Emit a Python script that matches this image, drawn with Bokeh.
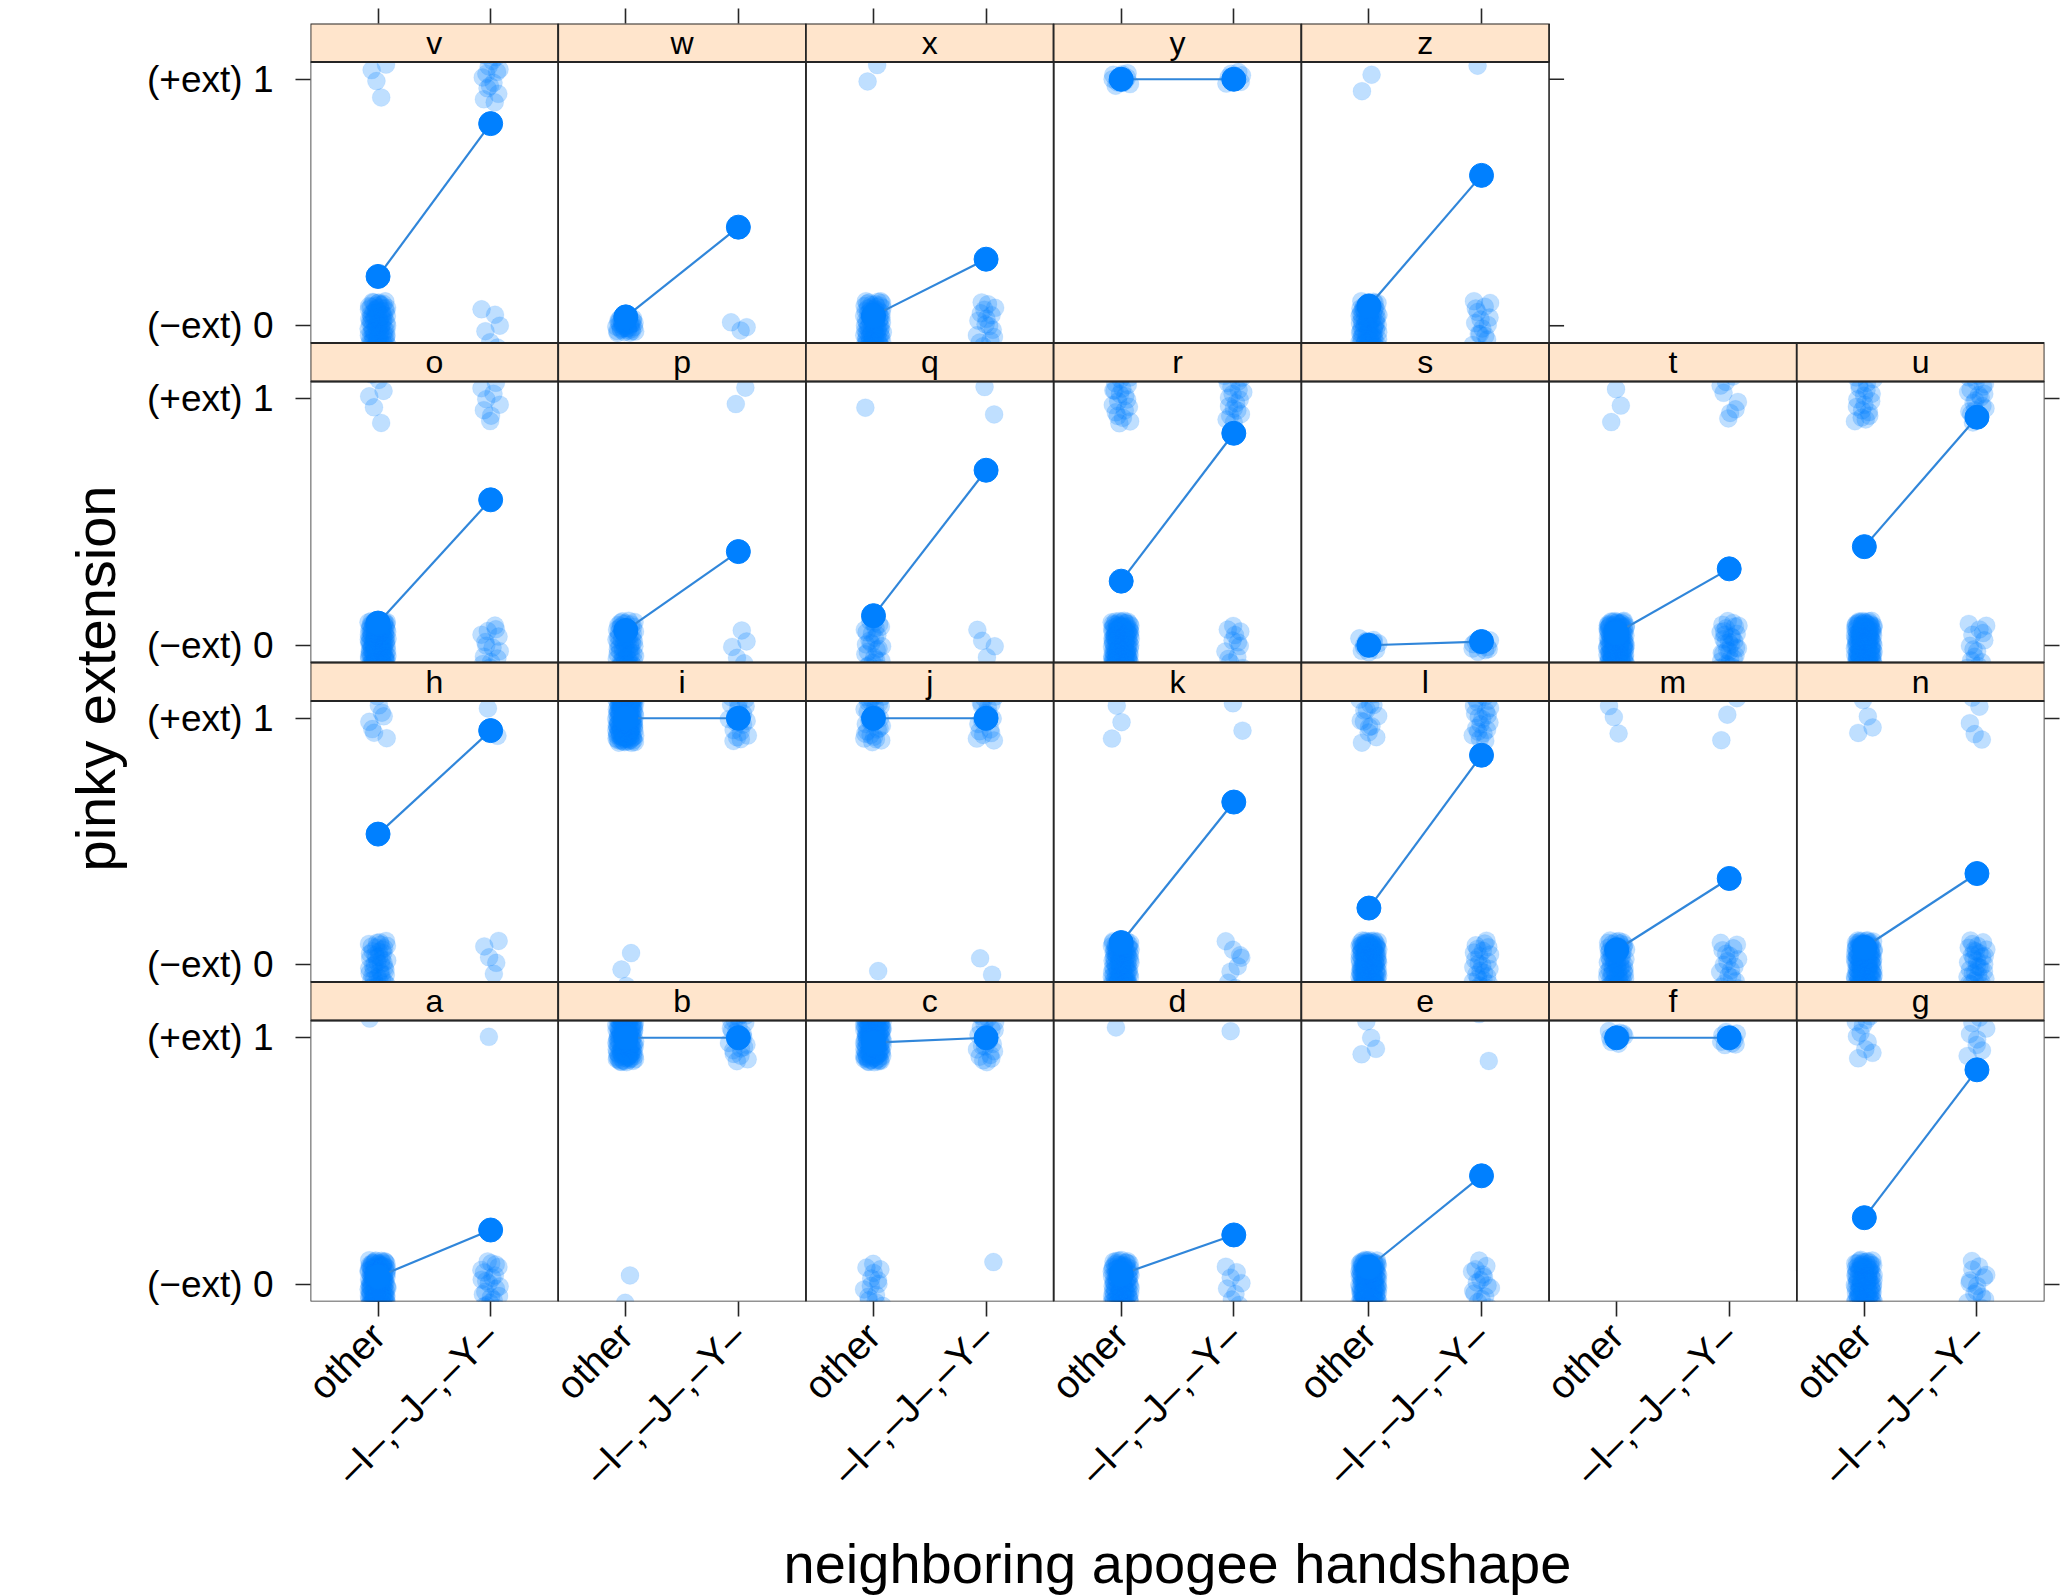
import math
from bokeh.plotting import figure
from bokeh.models import Range1d, FixedTicker, LinearAxis, Title
from bokeh.core.properties import value
from bokeh.embed import file_html
from bokeh.resources import INLINE

# ---------------- data ----------------
panels = list("abcdefghijklmnopqrstuvwxyz")
groups = ["other", "\u2013I\u2013,\u2013J\u2013,\u2013Y\u2013"]
y_tick_labels = ["(\u2212ext) 0", "(+ext) 1"]

# mean pinky extension per panel, for "other" and for "-I-,-J-,-Y-"
mean_other = [0.03, 1.00, 0.98, 0.04, 0.07, 1.00, 0.27,
              0.53, 1.00, 1.00, 0.09, 0.23, 0.06, 0.07,
              0.09, 0.06, 0.12, 0.26, 0.00, 0.05, 0.40,
              0.20, 0.036, 0.04, 1.00, 0.08]
mean_iyj = [0.22, 1.00, 1.00, 0.20, 0.44, 1.00, 0.87,
            0.95, 1.00, 1.00, 0.66, 0.85, 0.35, 0.37,
            0.59, 0.38, 0.71, 0.86, 0.015, 0.31, 0.925,
            0.82, 0.40, 0.27, 1.00, 0.61]

# approximate number of raw observations (tokens) at 0 and at 1, per group
n_other_0 = [150, 2, 14, 110, 150, 0, 110, 45, 3, 1, 110, 150, 70, 130,
             150, 70, 25, 150, 14, 150, 150, 90, 35, 90, 0, 90]
n_other_1 = [1, 130, 140, 1, 4, 10, 10, 8, 160, 30, 3, 14, 3, 4,
             6, 0, 1, 20, 0, 3, 18, 4, 0, 2, 12, 2]
n_iyj_0 = [22, 0, 1, 8, 16, 0, 14, 5, 0, 2, 8, 26, 18, 32,
           14, 5, 4, 12, 10, 32, 14, 6, 3, 16, 0, 16]
n_iyj_1 = [1, 22, 22, 1, 2, 10, 8, 2, 18, 18, 2, 20, 3, 5,
           8, 2, 2, 18, 0, 8, 20, 14, 0, 0, 8, 1]

# ---------------- layout / style ----------------
NCOL, NROW = 7, 4
X_LO, X_HI = 0.4, 2.6
XW = X_HI - X_LO
Y_LO, Y_HI = -0.07, 1.07
YH = Y_HI - Y_LO
STRIP = YH * 38.5 / 281.0
YP = YH + STRIP

FONT = "Liberation Sans"
BLUE = "#0080ff"
EDGE = "#262626"
TICK = 15

def halton(k, base):
    f, r = 1.0, 0.0
    while k > 0:
        f /= base
        r += f * (k % base)
        k //= base
    return r

p = figure(frame_width=1734, frame_height=1278,
           x_range=Range1d(X_LO, X_LO + NCOL * XW),
           y_range=Range1d(Y_LO, Y_LO + NROW * YP),
           x_axis_type=None, y_axis_type=None,
           output_backend="svg", toolbar_location=None,
           min_border_left=310, min_border_top=23,
           min_border_right=16, min_border_bottom=10)
p.outline_line_color = None
p.grid.visible = False
p.background_fill_color = "white"
p.border_fill_color = "white"

p.extra_x_ranges = {f"c{c}": Range1d(X_LO - c * XW, X_LO - c * XW + NCOL * XW)
                    for c in range(NCOL)}
p.extra_y_ranges = {f"r{r}": Range1d(Y_LO - r * YP, Y_LO - r * YP + NROW * YP)
                    for r in range(NROW)}

def style_axis(ax, tick_out=TICK):
    ax.axis_line_color = None
    ax.major_tick_in = 0
    ax.major_tick_out = tick_out
    ax.minor_tick_line_color = None
    ax.major_tick_line_color = EDGE
    ax.major_tick_line_width = 1.6
    ax.major_label_text_font = FONT
    ax.major_label_text_font_size = "37px"
    ax.major_label_text_color = "black"
    ax.axis_label_text_font = FONT
    ax.axis_label_text_font_size = "56px"
    ax.axis_label_text_font_style = "normal"
    ax.axis_label_text_color = "black"

# bottom axis
xt = [c * XW + g for c in range(NCOL) for g in (1, 2)]
bx = LinearAxis(ticker=FixedTicker(ticks=xt, minor_ticks=[]),
                axis_label="neighboring apogee handshape")
style_axis(bx)
bx.major_label_text_font_size = "39px"
bx.major_label_overrides = {t: groups[k % 2] for k, t in enumerate(xt)}
bx.major_label_orientation = math.pi / 4
bx.major_label_standoff = 13
bx.axis_label_standoff = 22
p.add_layout(bx, "below")

# top axis (only above the top row's five panels)
xt_top = [c * XW + g for c in range(5) for g in (1, 2)]
tx = LinearAxis(ticker=FixedTicker(ticks=xt_top, minor_ticks=[]))
style_axis(tx, tick_out=15)
tx.major_label_text_font_size = "0px"
tx.major_label_standoff = 0
tx.major_label_overrides = {t: "" for t in xt_top}
p.add_layout(tx, "above")

# left axis
yt = [r * YP + v for r in range(NROW) for v in (0, 1)]
ly = LinearAxis(ticker=FixedTicker(ticks=yt, minor_ticks=[]))
style_axis(ly)
ly.major_label_overrides = {t: y_tick_labels[k % 2] for k, t in enumerate(yt)}
ly.major_label_standoff = 22
p.add_layout(ly, "left")

# y axis title
p.add_layout(Title(text="pinky extension", align="left", offset=430,
                   standoff=36, text_font=FONT, text_font_size="56px",
                   text_font_style="normal", text_color="black"), "left")

# right axis (rows that reach the right edge)
yt_r = [r * YP + v for r in range(NROW - 1) for v in (0, 1)]
ry = LinearAxis(ticker=FixedTicker(ticks=yt_r, minor_ticks=[]))
style_axis(ry, tick_out=15)
ry.major_label_text_font_size = "0px"
ry.major_label_standoff = 0
ry.major_label_overrides = {t: "" for t in yt_r}
p.add_layout(ry, "right")

# ---------------- points, means, lines ----------------
seed = 1
for i, name in enumerate(panels):
    c, r = i % NCOL, i // NCOL
    xr, yr = f"c{c}", f"r{r}"
    ones = n_other_1[i] + n_iyj_1[i]
    zeros = n_other_0[i] + n_iyj_0[i]
    jy = 0.1 if (ones > 0 and zeros > 0) else 0.03
    jx = 0.085
    xs, ys = [], []
    counts = [((1, 0), n_other_0[i]), ((1, 1), n_other_1[i]),
              ((2, 0), n_iyj_0[i]), ((2, 1), n_iyj_1[i])]
    for (gx, yv), n in counts:
        for k in range(n):
            xs.append(gx + (2 * halton(seed + k, 2) - 1) * jx)
            ys.append(yv + (2 * halton(seed + k, 3) - 1) * jy)
        seed += 7
    p.scatter(xs, ys, size=18, fill_color=BLUE, fill_alpha=0.25,
              line_color=BLUE, line_alpha=0.08,
              x_range_name=xr, y_range_name=yr)
    p.line([1, 2], [mean_other[i], mean_iyj[i]], line_color="#3086da",
           line_width=2.2, x_range_name=xr, y_range_name=yr)
    p.scatter([1, 2], [mean_other[i], mean_iyj[i]], size=24,
              fill_color=BLUE, line_color=BLUE,
              x_range_name=xr, y_range_name=yr)

# ---------------- strips and panel borders ----------------
for i, name in enumerate(panels):
    c, r = i % NCOL, i // NCOL
    xr, yr = f"c{c}", f"r{r}"
    p.quad(left=[X_LO], right=[X_HI], bottom=[Y_HI], top=[Y_HI + STRIP],
           fill_color="#ffe5cc", line_color=EDGE, line_width=1.8,
           x_range_name=xr, y_range_name=yr)
    p.text(x=[(X_LO + X_HI) / 2], y=[Y_HI + STRIP / 2], text=[name],
           text_font=value(FONT), text_font_size=value("32px"),
           text_align="center", text_baseline="middle", text_color="black",
           x_range_name=xr, y_range_name=yr)
    p.quad(left=[X_LO], right=[X_HI], bottom=[Y_LO], top=[Y_HI],
           fill_color=None, line_color=EDGE, line_width=1.6,
           x_range_name=xr, y_range_name=yr)

# right-side ticks of the top row (at the right edge of its last panel)
p.ray(x=[X_HI, X_HI], y=[0, 1], length=TICK, length_units="screen", angle=0,
      line_color=EDGE, line_width=1.6, x_range_name="c4", y_range_name="r3")

open("out.html", "w").write(file_html(p, INLINE))
